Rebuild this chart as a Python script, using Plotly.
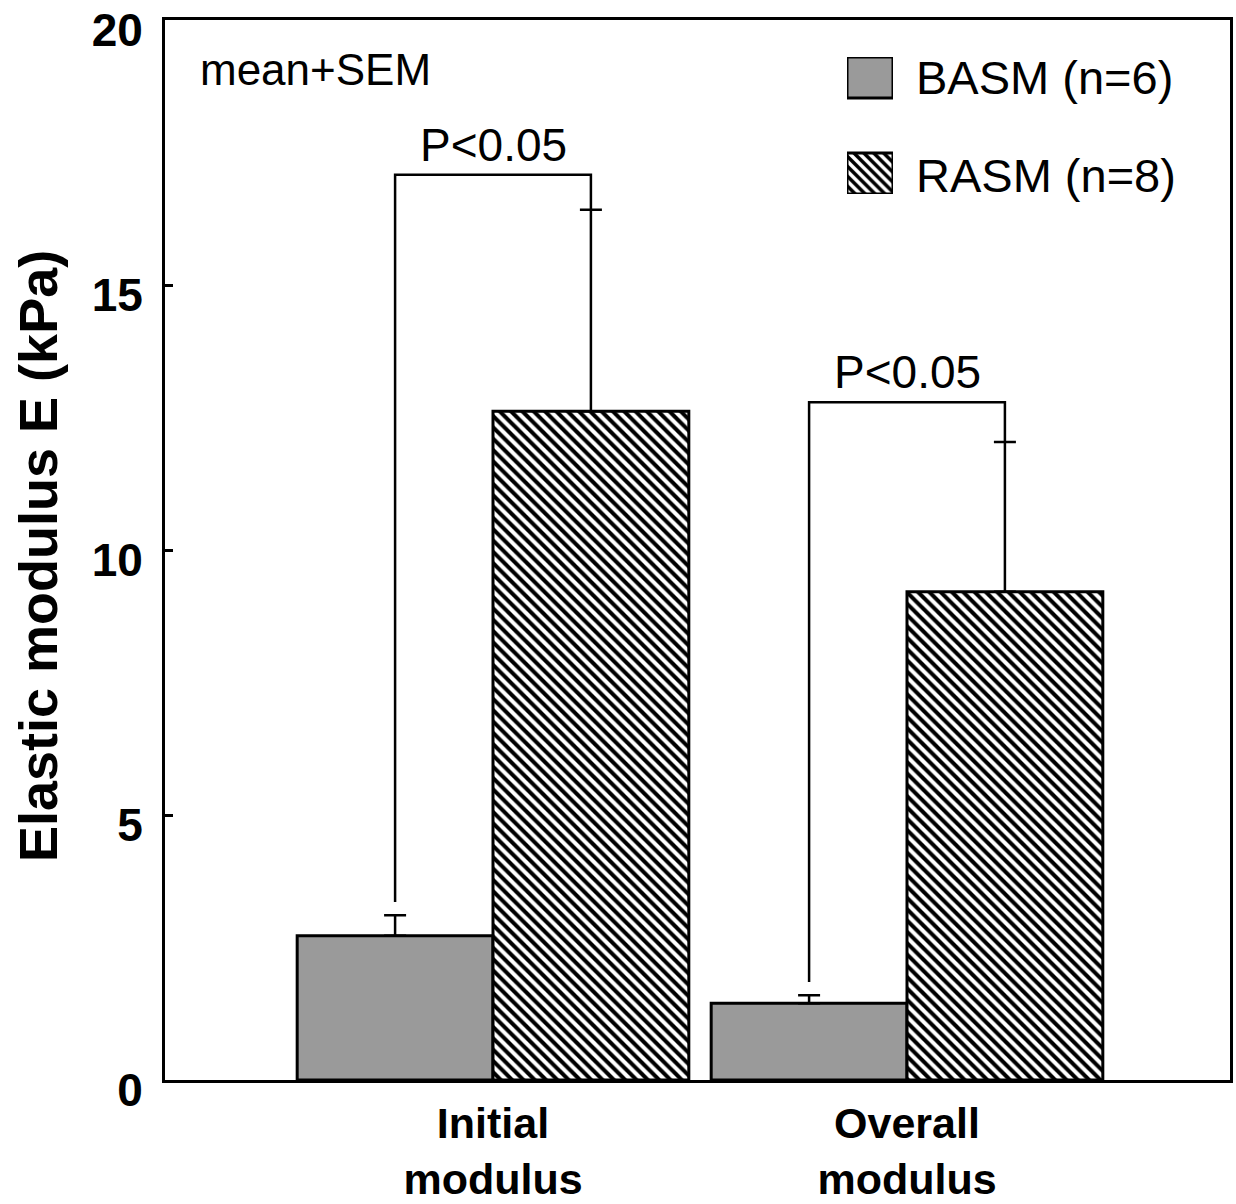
import plotly.graph_objects as go

# ---- data ----
groups = ["Initial<br>modulus", "Overall<br>modulus"]
basm_mean = [2.72, 1.45]
basm_sem = [0.39, 0.15]
rasm_mean = [12.62, 9.21]
rasm_sem = [3.80, 2.83]
bracket_level = [17.08, 12.79]
p_labels = ["P<0.05", "P<0.05"]
series_names = ["BASM (n=6)", "RASM (n=8)"]
y_ticks = [0, 5, 10, 15, 20]

FONT = "Liberation Sans, Arial, Helvetica, sans-serif"
BW = 0.473
GRAY = "#9a9a9a"
xpos = list(range(len(groups)))
HATCH = dict(shape="\\", size=8, solidity=0.5, fgcolor="black",
             bgcolor="white", fillmode="replace")

fig = go.Figure()

fig.add_trace(go.Bar(
    x=xpos, y=basm_mean, width=BW, offset=-BW, name=series_names[0],
    marker=dict(color=GRAY, line=dict(color="black", width=3)),
    error_y=dict(type="data", array=basm_sem, arrayminus=[0]*len(basm_sem),
                 symmetric=False, color="black", thickness=2.5, width=11),
    showlegend=False))
fig.add_trace(go.Bar(
    x=xpos, y=rasm_mean, width=BW, offset=0, name=series_names[1],
    marker=dict(color="white", line=dict(color="black", width=3), pattern=HATCH),
    error_y=dict(type="data", array=rasm_sem, arrayminus=[0]*len(rasm_sem),
                 symmetric=False, color="black", thickness=2.5, width=11),
    showlegend=False))

# significance brackets
gap = 0.25
for i, lvl in enumerate(bracket_level):
    xl = xpos[i] - BW / 2
    xr = xpos[i] + BW / 2
    yl = basm_mean[i] + basm_sem[i] + gap
    yr = rasm_mean[i] + rasm_sem[i]
    fig.add_trace(go.Scatter(
        x=[xl, xl, xr, xr], y=[yl, lvl, lvl, yr], mode="lines",
        line=dict(color="black", width=2.5), showlegend=False, hoverinfo="skip"))
    fig.add_annotation(x=xpos[i], y=lvl, xref="x", yref="y", text=p_labels[i],
                       showarrow=False, yanchor="bottom", yshift=2,
                       font=dict(family=FONT, size=46, color="black"))

# legend swatches on a small overlay axis
fig.add_trace(go.Bar(
    x=[1], y=[0.85], orientation="h", width=0.3, base=0,
    xaxis="x2", yaxis="y2", showlegend=False, hoverinfo="skip",
    marker=dict(color=GRAY, line=dict(color="black", width=3))))
fig.add_trace(go.Bar(
    x=[1], y=[0.15], orientation="h", width=0.3, base=0,
    xaxis="x2", yaxis="y2", showlegend=False, hoverinfo="skip",
    marker=dict(color="white", line=dict(color="black", width=3),
                pattern=dict(HATCH, size=7))))

L, R, T, B = 165, 6, 20, 124
PW, PH = 1236 - L - R, 1204 - T - B
def px(xp): return (xp - L) / PW
def py(yp): return (1080 - yp) / PH

fig.add_annotation(x=px(914), y=py(78), xref="paper", yref="paper", text=series_names[0],
                   showarrow=False, xanchor="left", yanchor="middle",
                   font=dict(family=FONT, size=47, color="black"))
fig.add_annotation(x=px(914), y=py(175), xref="paper", yref="paper", text=series_names[1],
                   showarrow=False, xanchor="left", yanchor="middle",
                   font=dict(family=FONT, size=47, color="black"))
fig.add_annotation(x=px(198), y=py(70), xref="paper", yref="paper", text="mean+SEM",
                   showarrow=False, xanchor="left", yanchor="middle",
                   font=dict(family=FONT, size=44, color="black"))
fig.add_annotation(x=px(38), y=py(556), xref="paper", yref="paper",
                   text="<b>Elastic modulus E (kPa)</b>", textangle=-90,
                   showarrow=False, xanchor="center", yanchor="middle",
                   font=dict(family=FONT, size=54, color="black"))

x0 = 493
fig.update_layout(
    width=1236, height=1204,
    margin=dict(l=L, r=R, t=T, b=B, pad=0),
    paper_bgcolor="white", plot_bgcolor="white",
    barmode="overlay",
    xaxis=dict(range=[(165 - x0) / 414, (1230 - x0) / 414],
               tickmode="array", tickvals=xpos,
               ticktext=["<b>" + g + "</b>" for g in groups],
               ticks="", showgrid=False, zeroline=False, automargin=False,
               showline=True, mirror=True, linecolor="black", linewidth=3,
               tickfont=dict(family=FONT, size=43, color="black"),
               ticklabelstandoff=3, ticklabeloverflow="allow"),
    yaxis=dict(range=[0, 20], tickmode="array", tickvals=y_ticks,
               ticktext=["<b>%d</b>" % v for v in y_ticks],
               ticks="inside", ticklen=8, tickwidth=2.5, tickcolor="black",
               showgrid=False, zeroline=False, automargin=False,
               showline=True, mirror=True, linecolor="black", linewidth=3,
               tickfont=dict(family=FONT, size=46, color="black"),
               ticklabelstandoff=10, ticklabelshift=10,
               ticklabeloverflow="allow"),
    xaxis2=dict(domain=[px(847), px(893)], range=[0, 1], visible=False,
                anchor="y2", fixedrange=True),
    yaxis2=dict(domain=[py(194), py(57)], range=[0, 1], visible=False,
                anchor="x2", fixedrange=True),
)

fig.write_html("out.html")
